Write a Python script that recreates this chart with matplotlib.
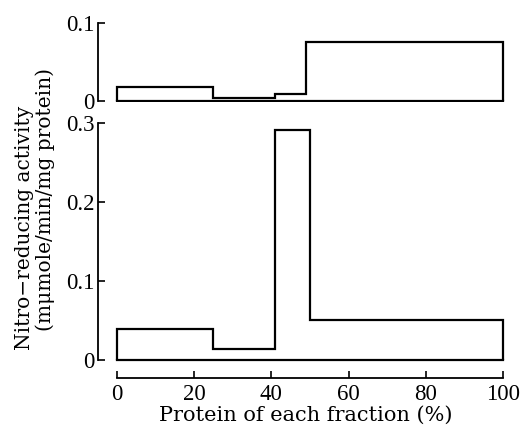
import matplotlib
matplotlib.use("Agg")
import matplotlib.pyplot as plt

# fraction boundaries (% of protein) and activities
edges_top = [0, 25, 41, 49, 100]
activity_top = [0.018, 0.004, 0.009, 0.076]
edges_bottom = [0, 25, 41, 50, 100]
activity_bottom = [0.039, 0.014, 0.291, 0.050]

x_ticks = [0, 20, 40, 60, 80, 100]
top_yticks = [0, 0.1]
top_ylabels = ["0", "0.1"]
bottom_yticks = [0, 0.1, 0.2, 0.3]
bottom_ylabels = ["0", "0.1", "0.2", "0.3"]

plt.rcParams['font.family'] = ['Liberation Serif']
plt.rcParams['font.size'] = 16.5

fig = plt.figure(figsize=(5.31, 4.30), dpi=100)
ax_top = fig.add_axes([0.184, 0.763, 0.785, 0.187])
ax_bot = fig.add_axes([0.184, 0.121, 0.785, 0.602])

lw = 1.6


def draw_steps(ax, edges, values):
    ax.stairs(values, edges, baseline=0, fill=False, color="black", linewidth=lw)
    ax.plot([edges[0], edges[-1]], [0, 0], color="black", linewidth=lw,
            solid_capstyle="projecting")


draw_steps(ax_top, edges_top, activity_top)
draw_steps(ax_bot, edges_bottom, activity_bottom)

ax_top.set_ylim(-0.001, 0.102)
ax_top.spines['bottom'].set_visible(False)
ax_top.spines['left'].set_bounds(0, 0.1)
ax_top.set_yticks(top_yticks, top_ylabels)
ax_top.set_xticks([])

ax_bot.set_ylim(-0.023, 0.305)
ax_bot.spines['left'].set_bounds(0, 0.3)
ax_bot.spines['bottom'].set_bounds(0, 100)
ax_bot.set_yticks(bottom_yticks, bottom_ylabels)
ax_bot.set_xticks(x_ticks, [str(t) for t in x_ticks])
ax_bot.set_xlabel("Protein of each fraction (%)", fontsize=15,
                  family='DejaVu Serif', labelpad=1)

for ax in (ax_top, ax_bot):
    ax.set_xlim(-5, 103)
    ax.spines['top'].set_visible(False)
    ax.spines['right'].set_visible(False)
    ax.spines['left'].set_linewidth(1.3)
    ax.spines['bottom'].set_linewidth(1.3)
    ax.tick_params(axis='y', direction='in', length=5, width=1.2, pad=2)
    ax.tick_params(axis='x', direction='in', length=5, width=1.2, pad=4)

fig.text(0.047, 0.47, "Nitro\u2212reducing activity", rotation=90,
         ha='center', va='center', fontsize=14.5, family='DejaVu Serif')
fig.text(0.086, 0.537, "(m\u03bcmole/min/mg protein)", rotation=90,
         ha='center', va='center', fontsize=14.5, family='DejaVu Serif')

fig.savefig("out.png", dpi=100)
